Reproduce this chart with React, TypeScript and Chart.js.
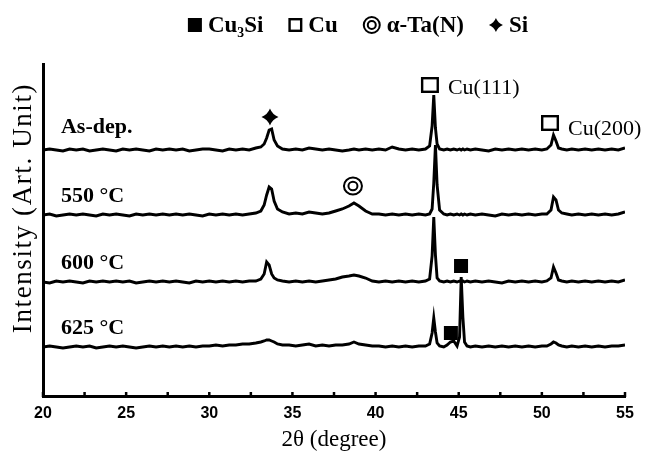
import React, { useEffect, useRef } from "react";
import { Chart, registerables } from "chart.js";

Chart.register(...registerables);

// 2θ sampling grid (degrees)
const theta = [
  20.0, 20.4, 20.8, 21.2, 21.6, 22.0, 22.4, 22.8, 23.2, 23.6,
  24.0, 24.4, 24.8, 25.2, 25.6, 26.0, 26.4, 26.8, 27.2, 27.6,
  28.0, 28.4, 28.8, 29.2, 29.6, 30.0, 30.4, 30.8, 31.2, 31.6,
  32.0, 32.4, 32.8, 33.1, 33.3, 33.45, 33.6, 33.75, 33.9, 34.1,
  34.4, 34.8, 35.2, 35.6, 36.0, 36.4, 36.8, 37.2, 37.6, 38.0,
  38.4, 38.7, 39.0, 39.4, 39.8, 40.2, 40.6, 41.0, 41.4, 41.8,
  42.2, 42.6, 43.0, 43.25, 43.4, 43.5, 43.6, 43.7, 43.85, 44.1,
  44.3, 44.5, 44.7, 44.9, 45.05, 45.15, 45.25, 45.35, 45.5, 45.7,
  46.0, 46.4, 46.8, 47.2, 47.6, 48.0, 48.4, 48.8, 49.2, 49.6,
  50.0, 50.3, 50.55, 50.7, 50.85, 51.0, 51.2, 51.5, 51.8, 52.2,
  52.6, 53.0, 53.4, 53.8, 54.2, 54.6, 55.0,
];

// intensities (arbitrary units, above each trace's own baseline)
const asDep = [
  0, 1, 0, -1, 1, 0, 1, -1, 0, 1,
  0, -1, 1, 0, 1, 0, -1, 1, 0, 1,
  0, 1, -1, 0, 1, 1, 0, -1, 1, 0,
  1, 0, 2, 3, 6, 12, 20, 21, 10, 4,
  1, 0, 1, 0, 2, 1, 0, 1, 0, -1,
  0, 1, 0, 1, 0, 1, 0, 3, 1, 0,
  1, 0, 1, 4, 24, 55, 22, 6, 1, 0,
  1, 0, 1, 0, 1, 0, 1, 0, 1, 0,
  1, 0, -1, 1, 0, 1, 0, 1, 0, 1,
  0, 1, 5, 15, 9, 2, 1, 0, 1, 0,
  1, 0, 1, 0, 1, 0, 2,
];

const t550 = [
  0, 1, -1, 0, 1, 0, 1, 0, -1, 1,
  0, 1, 0, -1, 1, 0, 1, 0, 1, 0,
  1, 0, 1, 0, -1, 1, 0, 1, 0, 1,
  0, 1, 2, 4, 10, 20, 28, 26, 14, 6,
  3, 1, 2, 1, 3, 2, 1, 2, 4, 6,
  9, 12, 9, 4, 1, 1, 0, 1, 0, 1,
  0, 1, 0, 1, 6, 32, 70, 30, 5, 1,
  0, 1, 0, 1, 0, 1, 0, 1, 0, 1,
  0, 1, 0, -1, 1, 0, 1, 0, 1, 0,
  1, 1, 5, 18, 15, 5, 2, 1, 0, 1,
  0, 1, 0, 1, 0, 1, 3,
];

const t600 = [
  0, -1, 1, 0, 1, 0, -1, 1, 0, 1,
  0, 1, 0, 1, -1, 0, 1, 0, 1, 0,
  1, 0, -1, 1, 0, 1, 0, 1, 0, 1,
  0, 1, 1, 3, 8, 20, 17, 8, 4, 2,
  1, 0, 1, 0, 1, 0, 1, 2, 3, 5,
  6, 7, 6, 4, 1, 0, 1, 0, 1, 0,
  1, 0, 1, 3, 26, 65, 27, 4, 1, 0,
  1, 0, 1, 0, 1, 0, 1, 0, 1, 0,
  1, 0, 1, 0, -1, 1, 0, 1, 0, 1,
  0, 1, 4, 15, 9, 2, 1, 0, 1, 0,
  1, 0, 1, 0, 1, 0, 2,
];

const t625 = [
  0, 1, 0, -1, 0, 1, 0, 1, -1, 0,
  1, 0, 1, 0, -1, 0, 1, 0, 1, 0,
  1, 0, 1, 0, 1, 1, 2, 1, 2, 2,
  3, 3, 4, 5, 6, 7, 7, 6, 5, 3,
  2, 2, 1, 2, 3, 1, 2, 1, 2, 2,
  3, 5, 3, 2, 1, 1, 0, 1, 0, 1,
  0, 1, 1, 3, 14, 29, 15, 4, 1, 0,
  2, 5, 6, 1, 10, 70, 30, 5, 1, 0,
  1, 0, 1, 0, 1, 0, 1, 0, 1, 0,
  1, 1, 3, 5, 4, 2, 1, 0, 1, 0,
  1, 0, 1, 0, 1, 1, 2,
];

const seriesNames = ["As-dep.", "550 °C", "600 °C", "625 °C"];
const seriesOffsets = [246, 181, 114, 49];
const seriesLabelTheta = 21.08;
const seriesLabelLevel = [263, 194, 127, 62];

// phase legend
const legendLabels = ["Cu₃Si", "Cu", "α-Ta(N)", "Si"];
const legendKinds = ["filledSquare", "openSquare", "doubleCircle", "sparkle"];

// peak markers placed in data coordinates (2θ, stacked intensity)
const peakKinds = ["sparkle", "openSquare", "openSquare", "doubleCircle", "filledSquare", "filledSquare"];
const peakTheta = [33.65, 43.27, 50.49, 38.64, 45.14, 44.53];
const peakLevel = [279, 311, 273, 210, 130, 63];

const peakLabelTexts = ["Cu(111)", "Cu(200)"];
const peakLabelTheta = [44.35, 51.57];
const peakLabelLevel = [308, 267];

const legendMarkerSize: Record<string, [number, number]> = {
  filledSquare: [14, 14],
  openSquare: [14, 14],
  doubleCircle: [18, 18],
  sparkle: [14, 14],
};
const chartMarkerSize: Record<string, [number, number]> = {
  filledSquare: [14, 14],
  openSquare: [18, 16],
  doubleCircle: [20, 19],
  sparkle: [17, 17],
};

function drawMarker(ctx: CanvasRenderingContext2D, kind: string, cx: number, cy: number, size: [number, number]) {
  const [w, h] = size;
  ctx.save();
  ctx.fillStyle = "#000";
  ctx.strokeStyle = "#000";
  if (kind === "filledSquare") {
    ctx.fillRect(cx - w / 2, cy - h / 2, w, h);
  } else if (kind === "openSquare") {
    ctx.lineWidth = 2.4;
    ctx.strokeRect(cx - w / 2 + 1.2, cy - h / 2 + 1.2, w - 2.4, h - 2.4);
  } else if (kind === "doubleCircle") {
    ctx.lineWidth = 2;
    ctx.beginPath();
    ctx.ellipse(cx, cy, w / 2 - 1, h / 2 - 1, 0, 0, Math.PI * 2);
    ctx.stroke();
    ctx.beginPath();
    ctx.ellipse(cx, cy, w / 4 - 0.5, h / 4 - 0.5, 0, 0, Math.PI * 2);
    ctx.stroke();
  } else if (kind === "sparkle") {
    const rx = w / 2;
    const ry = h / 2;
    const kx = rx * 0.28;
    const ky = ry * 0.28;
    ctx.beginPath();
    ctx.moveTo(cx, cy - ry);
    ctx.quadraticCurveTo(cx + kx, cy - ky, cx + rx, cy);
    ctx.quadraticCurveTo(cx + kx, cy + ky, cx, cy + ry);
    ctx.quadraticCurveTo(cx - kx, cy + ky, cx - rx, cy);
    ctx.quadraticCurveTo(cx - kx, cy - ky, cx, cy - ry);
    ctx.closePath();
    ctx.fill();
  }
  ctx.restore();
}

const overlayPlugin = {
  id: "xrdOverlay",
  afterDraw(chart: any) {
    const { ctx, chartArea, scales } = chart;
    const xs = scales.x;
    const ys = scales.y;
    ctx.save();
    ctx.fillStyle = "#000";
    ctx.strokeStyle = "#000";

    // inward tick marks on the 2θ axis
    ctx.lineWidth = 2.5;
    xs.ticks.forEach((t: any) => {
      const px = xs.getPixelForValue(t.value);
      ctx.beginPath();
      ctx.moveTo(px, chartArea.bottom + 1);
      ctx.lineTo(px, chartArea.bottom - 4);
      ctx.stroke();
    });

    // peak markers
    peakKinds.forEach((k, i) => {
      drawMarker(ctx, k, xs.getPixelForValue(peakTheta[i]), ys.getPixelForValue(peakLevel[i]), chartMarkerSize[k]);
    });

    // peak labels
    ctx.font = '22px "Liberation Serif"';
    ctx.textAlign = "left";
    ctx.textBaseline = "middle";
    peakLabelTexts.forEach((t, i) => {
      ctx.fillText(t, xs.getPixelForValue(peakLabelTheta[i]), ys.getPixelForValue(peakLabelLevel[i]));
    });

    // series labels
    ctx.font = 'bold 22px "Liberation Serif"';
    ctx.textBaseline = "alphabetic";
    seriesNames.forEach((n, i) => {
      ctx.fillText(n, xs.getPixelForValue(seriesLabelTheta), ys.getPixelForValue(seriesLabelLevel[i]));
    });

    // phase legend at the top
    ctx.font = 'bold 23px "Liberation Serif"';
    ctx.textBaseline = "middle";
    const gapMarker = 6;
    const gapItem = 25;
    const textW = legendLabels.map((t) => ctx.measureText(t).width);
    let total = 0;
    legendKinds.forEach((k, i) => {
      total += legendMarkerSize[k][0] + gapMarker + textW[i];
      if (i < legendKinds.length - 1) total += gapItem;
    });
    let lx = 358 - total / 2;
    const ly = 25;
    legendKinds.forEach((k, i) => {
      const [mw] = legendMarkerSize[k];
      drawMarker(ctx, k, lx + mw / 2, ly, legendMarkerSize[k]);
      lx += mw + gapMarker;
      ctx.fillText(legendLabels[i], lx, ly + 1);
      lx += textW[i] + gapItem;
    });

    // y-axis title
    ctx.save();
    ctx.translate(24, (chartArea.top + chartArea.bottom) / 2 - 22);
    ctx.rotate(-Math.PI / 2);
    ctx.font = '27px "Liberation Serif"';
    (ctx as any).letterSpacing = "1.6px";
    ctx.textAlign = "center";
    ctx.textBaseline = "middle";
    ctx.fillText("Intensity (Art. Unit)", 0, 0);
    ctx.restore();

    ctx.restore();
  },
};

export default function App() {
  const canvasRef = useRef<HTMLCanvasElement>(null);

  useEffect(() => {
    const canvas = canvasRef.current;
    if (!canvas) return;
    const traces = [asDep, t550, t600, t625];
    const datasets = traces.map((vals, i) => ({
      label: seriesNames[i],
      data: theta.map((t, j) => ({ x: t, y: vals[j] + seriesOffsets[i] })),
      borderColor: "#000",
      borderWidth: 2.9,
      pointRadius: 0,
      fill: false,
      tension: 0,
    }));

    const chart = new Chart(canvas, {
      type: "line",
      data: { datasets },
      options: {
        animation: false,
        responsive: true,
        maintainAspectRatio: false,
        layout: { padding: { top: 64, right: 30, left: 0, bottom: 0 } },
        plugins: {
          legend: { display: false },
          tooltip: { enabled: false },
        },
        scales: {
          x: {
            type: "linear",
            min: 20,
            max: 55,
            ticks: {
              stepSize: 2.5,
              autoSkip: false,
              maxRotation: 0,
              padding: 8,
              color: "#000",
              font: { family: '"Liberation Sans"', weight: "bold", size: 16 },
              callback: (v: any) => (Number(v) % 5 === 0 ? String(v) : ""),
            },
            grid: { display: false, drawTicks: false },
            border: { display: true, color: "#000", width: 3 },
            title: {
              display: true,
              text: "2θ (degree)",
              color: "#000",
              font: { family: '"Liberation Serif"', size: 23 },
              padding: { top: 0, bottom: 3 },
            },
            afterFit: (s: any) => {
              s.height = 61;
            },
          },
          y: {
            type: "linear",
            min: 0,
            max: 332,
            ticks: { display: false },
            grid: { display: false, drawTicks: false },
            border: { display: true, color: "#000", width: 3 },
            afterFit: (s: any) => {
              s.width = 43;
            },
          },
        },
      } as any,
      plugins: [overlayPlugin],
    });

    return () => chart.destroy();
  }, []);

  return (
    <div style={{ position: "absolute", left: 0, top: 0, width: 655, height: 457, background: "#fff" }}>
      <canvas ref={canvasRef} />
    </div>
  );
}
